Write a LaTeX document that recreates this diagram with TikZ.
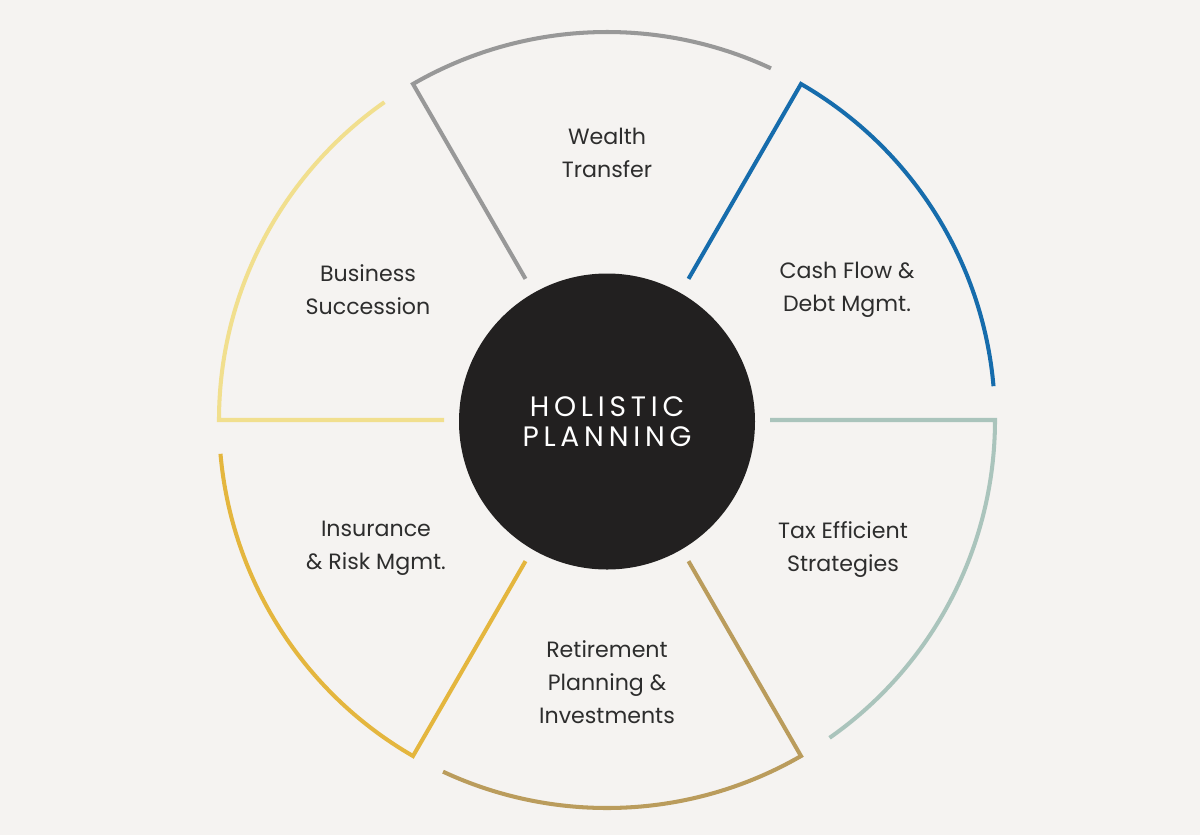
\documentclass[tikz,border=0pt]{standalone}
\usepackage{fontspec}
\setmainfont{Poppins}
\newfontfamily\hubfont{Poppins}[LetterSpace=17]
\definecolor{paper}{RGB}{245,243,241}
\definecolor{ink}{RGB}{45,45,45}
\definecolor{hubfill}{RGB}{34,32,32}
\definecolor{wealth}{RGB}{152,152,152}
\definecolor{cash}{RGB}{22,108,172}
\definecolor{tax}{RGB}{170,196,188}
\definecolor{retire}{RGB}{186,156,92}
\definecolor{insure}{RGB}{228,182,62}
\definecolor{business}{RGB}{241,223,142}
\newcommand{\drawsegment}[2]{\draw[segline, #1] (#2:3.26)--(#2:7.76) arc[start angle=#2, delta angle=-55, radius=7.76];}
\tikzset{
  segline/.style={line width=2.3pt},
  segtext/.style={align=center, text=ink, font=\fontsize{12.6}{18.8}\selectfont},
  hub/.style={circle, fill=hubfill, minimum size=5.92cm, inner sep=0pt, align=center, text=white, font=\hubfont\fontsize{16}{17}\selectfont}
}
\begin{document}
\begin{tikzpicture}
\fill[paper] (-12.14,-8.3) rectangle (11.86,8.4);
\useasboundingbox (-12.14,-8.3) rectangle (11.86,8.4);
\foreach \ang/\col in {120/wealth,60/cash,0/tax,-60/retire,-120/insure,180/business}{
  \drawsegment{\col}{\ang}
}
\node[hub] (hub) at (0,-0.03) {HOLISTIC\\PLANNING};
\node[segtext] (wealthtext) at (90:5.35) {Wealth\\Transfer};
\node[segtext] (cashtext) at (4.8,2.6) {Cash Flow \&\\Debt Mgmt.};
\node[segtext] (businesstext) at (-4.78,2.6) {Business\\Succession};
\node[segtext] (taxtext) at (4.72,-2.6) {Tax Efficient\\Strategies};
\node[segtext] (insuretext) at (-4.62,-2.56) {Insurance\\\& Risk Mgmt.};
\node[segtext] (retiretext) at (0,-5.24) {Retirement\\Planning \&\\Investments};
\end{tikzpicture}
\end{document}
